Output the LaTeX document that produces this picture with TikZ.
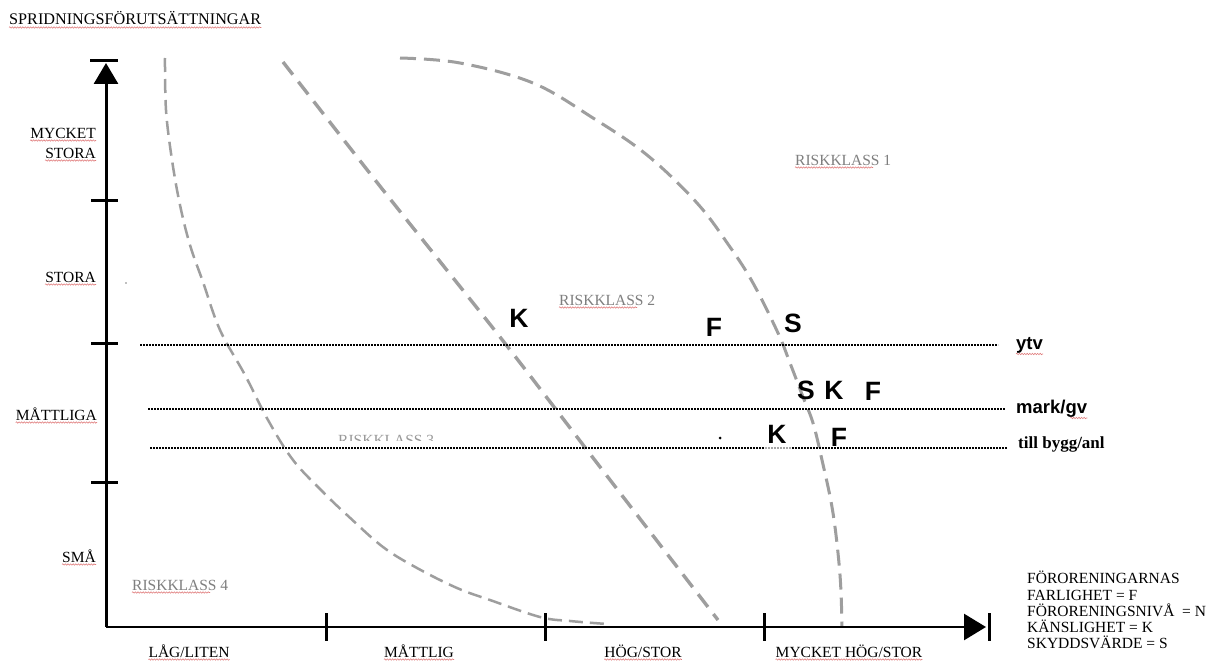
\documentclass[tikz,border=0pt]{standalone}
\usepackage{fontspec}
\setmainfont{Liberation Serif}
\newfontfamily\arialfont{Liberation Sans}
\usetikzlibrary{arrows.meta,decorations.pathmorphing}

\definecolor{curvegray}{HTML}{9E9E9E}
\definecolor{classgray}{HTML}{7F7F7F}
\definecolor{spellred}{HTML}{E07A7A}

\tikzset{
  lbl/.style={inner sep=0pt, font=\fontsize{15.5}{17}\selectfont},
  classlbl/.style={lbl, text=classgray},
  letter/.style={inner sep=0pt, font=\arialfont\bfseries\fontsize{26.5}{28}\selectfont},
  sidelbl/.style={inner sep=0pt, font=\arialfont\bfseries\fontsize{18.5}{20}\selectfont},
  axisline/.style={line width=3pt, black},
  tickline/.style={line width=3pt, black},
  level/.style={line width=1.6pt, dash pattern=on 1.6pt off 1.4pt},
  boundary/.style={curvegray, line width=2.8pt, dash pattern=on 15pt off 8pt},
  squig/.style={spellred, line width=0.55pt, decorate,
    decoration={snake, amplitude=0.7pt, segment length=2.6pt}},
}

\begin{document}
\begin{tikzpicture}[x=1pt, y=-1pt]
\useasboundingbox (0,0) rectangle (1211,661);
\fill[white] (0,0) rectangle (1211,661);

% ---- risk class boundaries ----
\draw[boundary, line width=2.5pt, dash pattern=on 14pt off 7pt]
  plot[smooth, tension=0.6] coordinates {
    (165,58) (166,110) (172,160) (180,205) (190,245) (203,282) (220,330)
    (245,375) (268,420) (293,460) (323,492) (347,515) (383,547) (417,568)
    (457,588) (490,600) (540,617) (570,621) (607,624)};
\draw[boundary, line width=3.4pt, dash pattern=on 16pt off 9pt]
  plot[smooth, tension=0.5] coordinates {
    (283,62) (383,190) (500,337) (597,463) (718,620)};
\draw[boundary, line width=3pt, dash pattern=on 16pt off 8pt]
  plot[smooth, tension=0.6] coordinates {
    (400,58) (460,63) (533,83) (593,118) (647,155) (697,203) (730,247)
    (753,283) (778,333) (790,363) (803,397) (813,423) (822,460) (833,513)
    (840,575) (842,627)};

% ---- axes ----
\coordinate (O) at (106,627);
\coordinate (ytip) at (106,63);
\coordinate (xtip) at (986,627);
\draw[axisline, -{Triangle[length=21pt,width=24pt]}] (O) -- (ytip);
\draw[line width=2.6pt, -{Triangle[length=22pt,width=26pt]}] (O) -- (xtip);
\draw[tickline] (90,61) -- (118,61);
\draw[tickline] (989,613) -- (989,641);
\foreach \yy in {200,343,482} \draw[tickline] (91,\yy) -- (118,\yy);
\foreach \xx in {326,545,764} \draw[tickline] (\xx,613) -- (\xx,641);

% ---- level lines ----
\node[sidelbl, anchor=base west] (ytv) at (1016,349) {ytv};
\node[sidelbl, anchor=base west] (mark) at (1016,413) {mark/gv};
\node[inner sep=0pt, font=\bfseries\fontsize{17}{19}\selectfont, anchor=base west] (bygg) at (1018,448) {till bygg/anl};
\coordinate (ytvstart) at (140,345);
\coordinate (markstart) at (148,409);
\coordinate (byggstart) at (150,448);
\draw[level] (ytvstart) -- ([xshift=-18pt]ytv.west |- ytvstart);
\draw[level] (markstart) -- ([xshift=-11pt]mark.west |- markstart);
\draw[level] (byggstart) -- (765,448);
\draw[level, black!35] (765,448) -- (792,448);
\draw[level] (792,448) -- ([xshift=-11pt]bygg.west |- byggstart);

% ---- title and axis labels ----
\node[lbl, font=\fontsize{16.2}{18}\selectfont, anchor=base west] (title) at (9,25) {SPRIDNINGSFÖRUTSÄTTNINGAR};
\node[lbl, anchor=base east] (y4a) at (96,138) {MYCKET};
\node[lbl, anchor=base east] (y4b) at (96,158) {STORA};
\node[lbl, anchor=base east] (y3) at (96,282) {STORA};
\node[lbl, anchor=base east] (y2) at (97,420) {MÅTTLIGA};
\node[lbl, anchor=base east] (y1) at (96,562) {SMÅ};
\node[lbl, anchor=base] (x1) at (189,657) {LÅG/LITEN};
\node[lbl, anchor=base] (x2) at (419,657) {MÅTTLIG};
\node[lbl, anchor=base] (x3) at (643,657) {HÖG/STOR};
\node[lbl, anchor=base] (x4) at (849,657) {MYCKET HÖG/STOR};

% ---- risk classes ----
\node[classlbl, anchor=base west] (rk1) at (795,165) {RISKKLASS 1};
\node[classlbl, anchor=base west] (rk2) at (559,305) {RISKKLASS 2};
\begin{scope}
  \clip (300,428) rectangle (480,440);
  \node[classlbl, text=black!40, anchor=base west] (rk3) at (338,445) {RISKKLASS 3};
\end{scope}
\node[classlbl, anchor=base west] (rk4) at (132,590) {RISKKLASS 4};

% ---- legend ----
\node[lbl, anchor=base west] (leg1) at (1027,583) {FÖRORENINGARNAS};
\node[lbl, anchor=base west] (leg2) at (1027,600) {FARLIGHET = F};
\node[lbl, anchor=base west] (leg3) at (1027,616) {FÖRORENINGSNIVÅ \ = N};
\node[lbl, anchor=base west] (leg4) at (1027,632) {KÄNSLIGHET = K};
\node[lbl, anchor=base west] (leg5) at (1027,648) {SKYDDSVÄRDE = S};

% ---- F / K / S markers ----
\node[letter] (k1) at (519,318) {K};
\node[letter] (f1) at (714,327) {F};
\node[letter] (s1) at (793,323) {S};
\node[letter] (s2) at (806,390) {S};
\node[letter] (k2) at (834,390) {K};
\node[letter] (f2) at (873,391) {F};
\node[letter] (k3) at (777,434) {K};
\node[letter] (f3) at (839,437) {F};
\fill (720,438) circle (1.5pt);
\fill[black!50] (126,283) circle (0.9pt);

% ---- spelling underlines ----
\foreach \n in {title,y4a,y4b,y3,y2,y1,x1,x2,x3,x4}
  \draw[squig] ([yshift=-2.5pt]\n.base west) -- ([yshift=-2.5pt]\n.base east);
\foreach \n in {rk1,rk2,rk4}
  \draw[squig] ([yshift=-2.5pt]\n.base west) -- ++(78,0);
\draw[squig] ([yshift=-5pt]ytv.base west) -- ([yshift=-5pt]ytv.base east);
\draw[squig] ([xshift=-17pt,yshift=-5pt]mark.base east) -- ([yshift=-5pt]mark.base east);
\end{tikzpicture}
\end{document}
